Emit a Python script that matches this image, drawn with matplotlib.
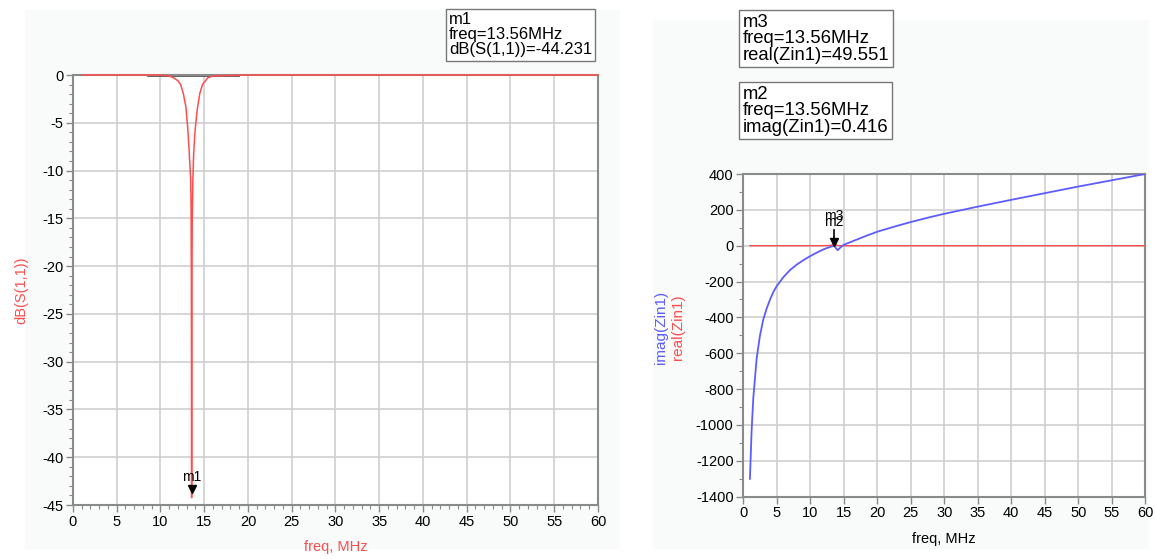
import matplotlib.pyplot as plt
from matplotlib.ticker import MultipleLocator
from matplotlib.patches import Rectangle

plt.rcParams['font.family'] = ['Liberation Sans', 'DejaVu Sans']
plt.rcParams['axes.unicode_minus'] = False

# S11 sweep (dB) around the 13.56 MHz match
s11_freq = [1, 5, 10, 11, 11.5, 12, 12.3, 12.6, 12.9, 13.1, 13.25, 13.35, 13.45, 13.5, 13.53,
            13.56, 13.59, 13.63, 13.7, 13.78, 13.9, 14.0, 14.2, 14.5, 14.8, 15.4, 16, 20, 30, 60]
s11_db = [0, 0, 0, -0.1, -0.3, -0.6, -1.0, -1.9, -3.3, -5.4, -7.5, -9.2, -11.0, -14.0, -22.0,
          -44.231, -22.0, -15.0, -11.0, -8.5, -6.5, -5.4, -3.6, -1.9, -1.0, -0.3, -0.1, 0, 0, 0]
ref_span = [8.6, 18.9]

# input impedance
z_freq = [1, 1.25, 1.5, 2, 2.5, 3, 3.5, 4, 4.5, 5, 6, 7, 8, 9, 10, 11, 12, 13, 13.3, 13.45, 13.56,
          13.67, 13.8, 14.1, 14.5, 15, 16, 18, 20, 22.5, 25, 27.5, 30, 32.5, 35, 40, 45, 50, 55, 60]
z_imag = [-1300, -1030, -850, -630, -500, -410, -350, -300, -258, -225, -175, -135, -105, -80, -58,
          -38, -20, -6, -3, -1, 0.416, -5, -12, -25, -10, 5, 20, 50, 78, 106, 132, 156, 178, 198,
          218, 256, 293, 330, 365, 400]
z_real = [0, 0, 0, 0, 0, 0, 0, 0, 0, 0, 0, 0, 0, 0, 0, 0, 0.5, 1.5,
          5, 20, 49.551, 20, 5, 1, 0.5, 0, 0, 0, 0, 0, 0, 0, 0, 0, 0, 0, 0, 0, 0, 0]

f_mark = 13.56
m1_db = -44.231
m3_real = 49.551
m2_imag = 0.416

RED = '#ff4d4d'
BLUE = '#5c5cff'
GRID = '#cfcfcf'
SPINE = '#8a8a8a'

fig = plt.figure(figsize=(11.55, 5.59), dpi=100)
fig.patch.set_facecolor('white')
fig.add_artist(Rectangle((0.022, 0.018), 0.515, 0.965, transform=fig.transFigure,
                         facecolor='#f9fafa', edgecolor='none', zorder=-5))
fig.add_artist(Rectangle((0.565, 0.018), 0.43, 0.946, transform=fig.transFigure,
                         facecolor='#f9fafa', edgecolor='none', zorder=-5))


def style(ax):
    ax.set_facecolor('white')
    ax.grid(True, which='major', color=GRID, lw=1.2)
    ax.set_axisbelow(True)
    for s in ax.spines.values():
        s.set_color(SPINE)
        s.set_linewidth(1.5)
    ax.tick_params(which='major', direction='out', length=5, width=1, color=SPINE,
                   labelsize=10.5, pad=2)
    ax.tick_params(which='minor', direction='out', length=3, width=0.8, color=SPINE)


def marker_box(x, y, text, size, spacing):
    fig.text(x, y, text, fontsize=size, ha='left', va='top', linespacing=spacing,
             bbox=dict(boxstyle='square,pad=0.2', facecolor='white', edgecolor='#777777', lw=1))


# left: return loss
ax1 = fig.add_axes([0.0632, 0.0966, 0.4545, 0.7692])
style(ax1)
ax1.plot(ref_span, [0, 0], color='#555555', lw=2, zorder=2, clip_on=False)
ax1.plot(s11_freq, s11_db, color=RED, lw=1.1, zorder=3, clip_on=False)
ax1.set_xlim(0, 60)
ax1.set_ylim(-45, 0)
ax1.xaxis.set_major_locator(MultipleLocator(5))
ax1.xaxis.set_minor_locator(MultipleLocator(1))
ax1.yaxis.set_major_locator(MultipleLocator(5))
ax1.yaxis.set_minor_locator(MultipleLocator(1))
ax1.set_ylabel('dB(S(1,1))', color=RED, fontsize=10.5, labelpad=10)
ax1.set_xlabel('freq, MHz', color=RED, fontsize=10.5, labelpad=8)
ax1.plot(f_mark, m1_db + 0.9, marker='v', color='black', ms=6, zorder=5, clip_on=False)
ax1.text(f_mark, m1_db + 1.4, 'm1', ha='center', va='bottom', fontsize=10, zorder=5)

marker_box(0.3887, 0.978, 'm1\nfreq=13.56MHz\ndB(S(1,1))=%.3f' % m1_db, 12, 1.0)

# right: impedance
ax2 = fig.add_axes([0.6435, 0.1115, 0.348, 0.5772])
style(ax2)
ax2.plot(z_freq, z_real, color=RED, lw=1.0, zorder=3)
ax2.plot(z_freq, z_imag, color=BLUE, lw=1.3, zorder=4)
ax2.set_xlim(0, 60)
ax2.set_ylim(-1400, 400)
ax2.xaxis.set_major_locator(MultipleLocator(5))
ax2.yaxis.set_major_locator(MultipleLocator(200))
ax2.yaxis.set_minor_locator(MultipleLocator(100))
ax2.set_xlabel('freq, MHz', color='black', fontsize=10.5, labelpad=8)
ax2.text(-0.205, 0.525, 'imag(Zin1)', color=BLUE, fontsize=11, rotation=90,
         ha='center', va='center', transform=ax2.transAxes)
ax2.text(-0.162, 0.525, 'real(Zin1)', color=RED, fontsize=11, rotation=90,
         ha='center', va='center', transform=ax2.transAxes)
ax2.plot([f_mark, f_mark], [m2_imag + 20, 90], color='black', lw=1.2, zorder=5)
ax2.plot(f_mark, m2_imag + 18, marker='v', color='black', ms=6, zorder=6)
ax2.text(f_mark, 95, 'm2', ha='center', va='bottom', fontsize=10, zorder=6)
ax2.text(f_mark, 125, 'm3', ha='center', va='bottom', fontsize=10, zorder=6)

marker_box(0.6433, 0.975, 'm3\nfreq=13.56MHz\nreal(Zin1)=%.3f' % m3_real, 13.3, 0.95)
marker_box(0.6433, 0.846, 'm2\nfreq=13.56MHz\nimag(Zin1)=%.3f' % m2_imag, 13.3, 0.95)

fig.savefig('out.png', dpi=100)
